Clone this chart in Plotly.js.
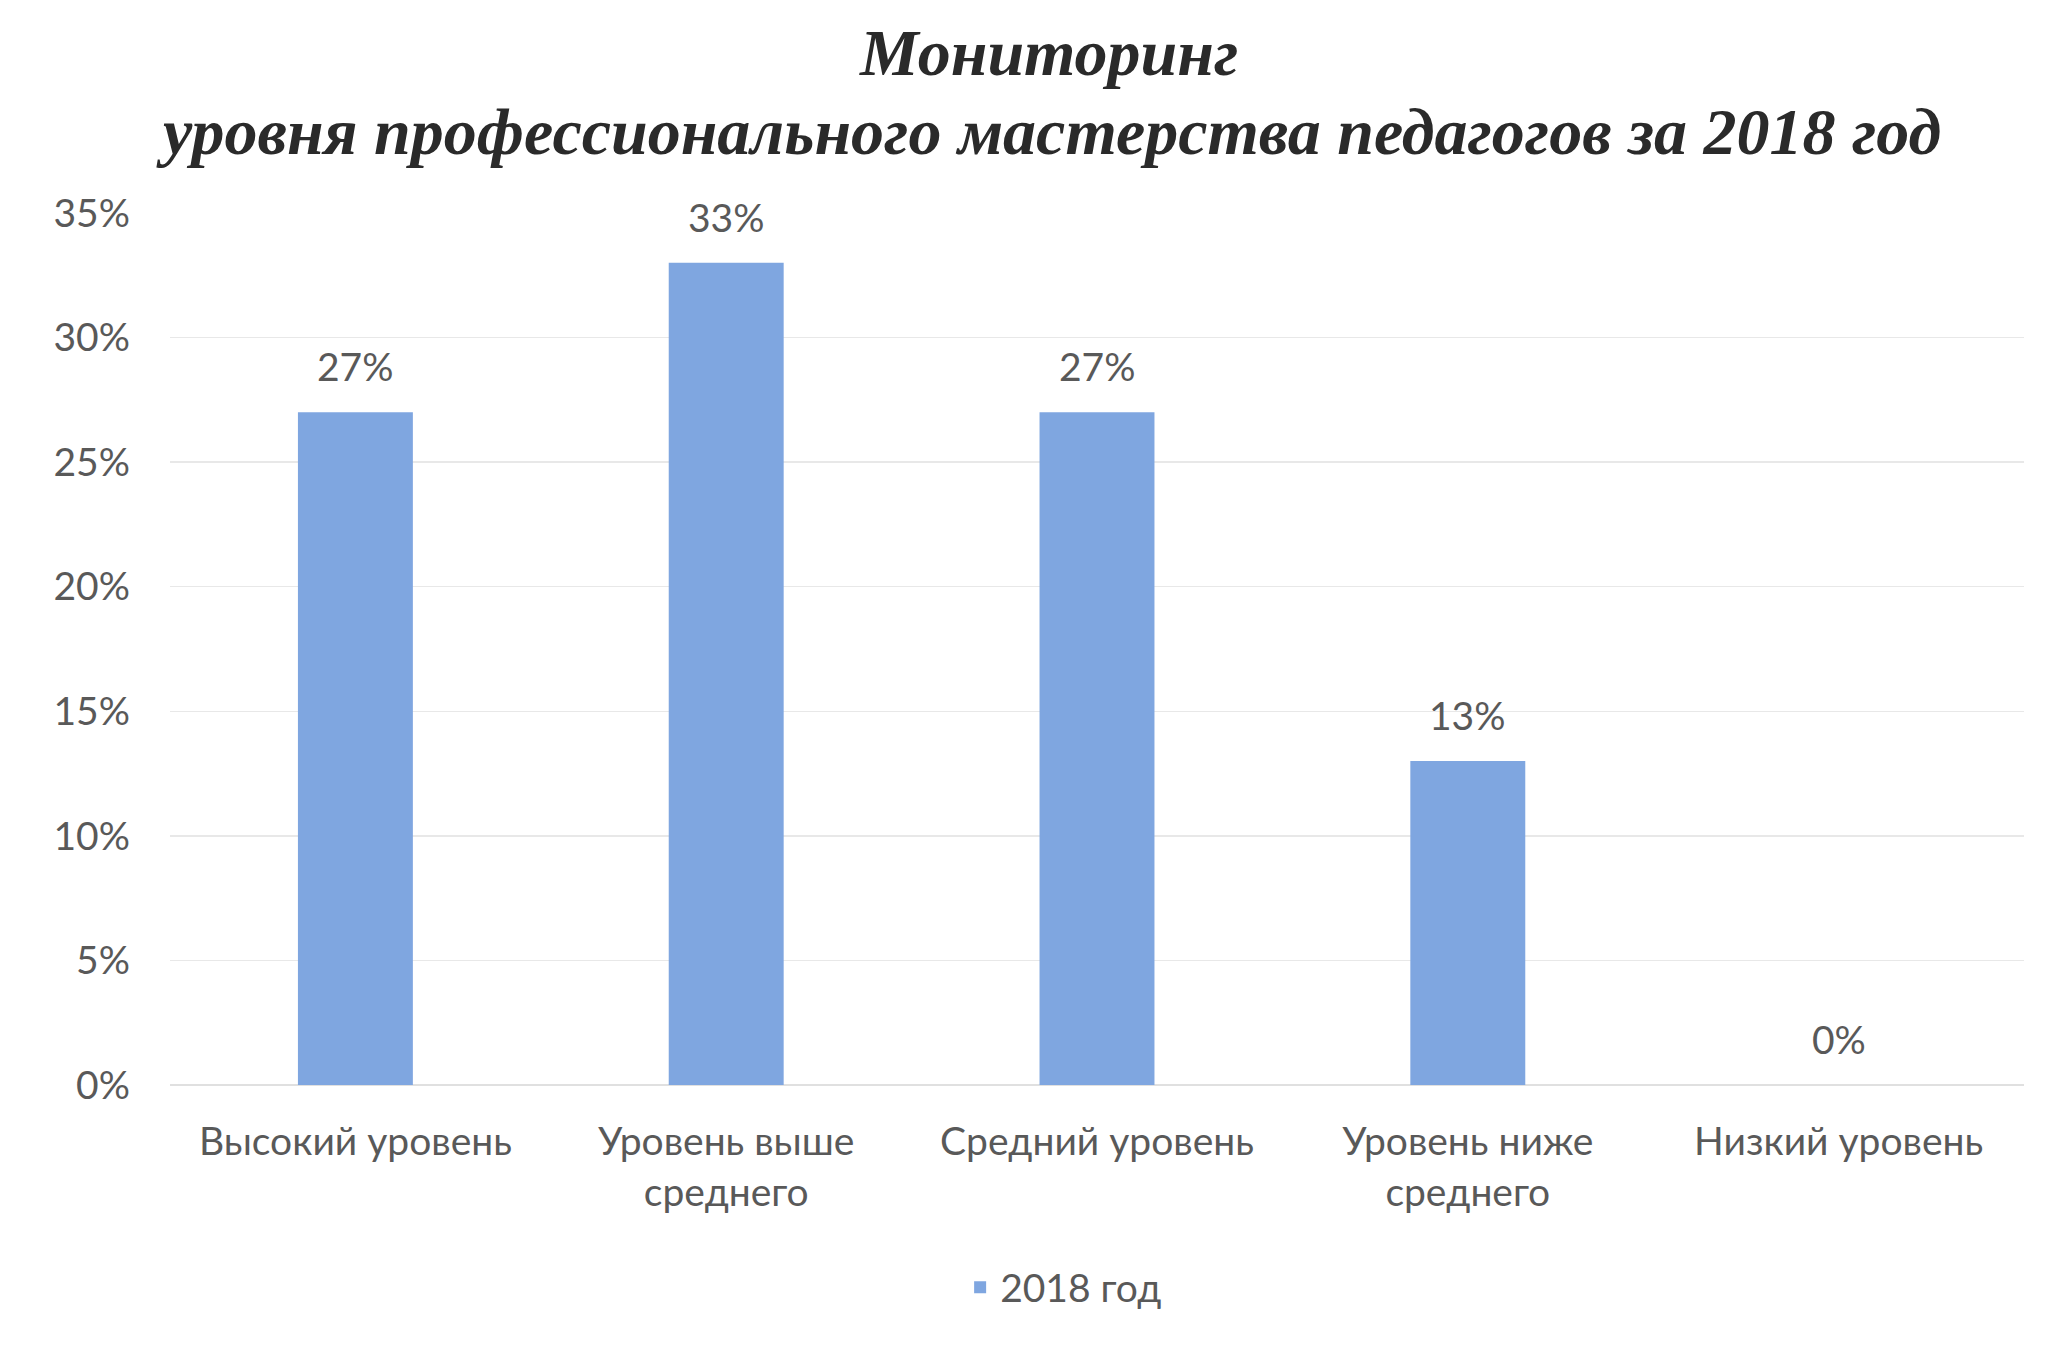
<!DOCTYPE html>
<html>
<head>
<meta charset="utf-8">
<script src="https://cdn.plot.ly/plotly-3.0.1.min.js"></script>
<style>html,body{margin:0;padding:0;background:#fff;}#chart{width:2049px;height:1345px;}</style>
</head>
<body>
<div id="chart"></div>
<script>
const categories = ["Высокий уровень", "Уровень выше<br>среднего", "Средний уровень", "Уровень ниже<br>среднего", "Низкий уровень"];
const values2018 = [0.27, 0.33, 0.27, 0.13, 0.00];
const valueLabels = ["27%", "33%", "27%", "13%", "0%"];
const seriesName = "2018 год";
const titleLines = ["Мониторинг", "уровня профессионального мастерства педагогов за 2018 год"];

const labelFont = {family: "Lato, 'Open Sans', sans-serif", size: 39, color: "#595959"};
const titleFont = {family: "'Liberation Serif', 'Times New Roman', serif", size: 66, color: "#2a2a2a"};

const trace = {
  type: "bar",
  x: categories,
  y: values2018,
  name: seriesName,
  marker: {color: "#7fa6e0"},
  hoverinfo: "x+y"
};

const annotations = categories.map((c, i) => ({
  x: c, y: values2018[i], xref: "x", yref: "y",
  text: valueLabels[i], showarrow: false,
  yanchor: "bottom", yshift: 21,
  font: labelFont
}));

const titleY = [1.1846, 1.094];
titleLines.forEach((t, i) => annotations.push({
  x: 0.4736, xref: "paper", xanchor: "center",
  y: titleY[i], yref: "paper", yanchor: "middle",
  text: "<b><i>" + t + "</i></b>", showarrow: false,
  font: titleFont
}));

const layout = {
  width: 2049, height: 1345,
  paper_bgcolor: "#ffffff", plot_bgcolor: "#ffffff",
  margin: {l: 170, r: 25, t: 213, b: 260},
  bargap: 0.69,
  xaxis: {
    type: "category",
    tickfont: labelFont,
    showgrid: false, showline: false, ticks: "",
    ticklabelstandoff: 30
  },
  yaxis: {
    range: [0, 0.35], dtick: 0.05, tickformat: ".0%",
    tickfont: labelFont,
    showgrid: true, gridcolor: "#e8e8e8", gridwidth: 1.5,
    zeroline: true, zerolinecolor: "#e0e0e0", zerolinewidth: 1.5,
    showline: false, ticks: "",
    ticklabelstandoff: 39
  },
  showlegend: true,
  legend: {
    orientation: "h", x: 0.482, xanchor: "center", y: -0.232, yanchor: "middle",
    font: labelFont, bgcolor: "rgba(0,0,0,0)"
  },
  annotations: annotations
};

Plotly.newPlot("chart", [trace], layout, {displayModeBar: false, staticPlot: true});
</script>
</body>
</html>
